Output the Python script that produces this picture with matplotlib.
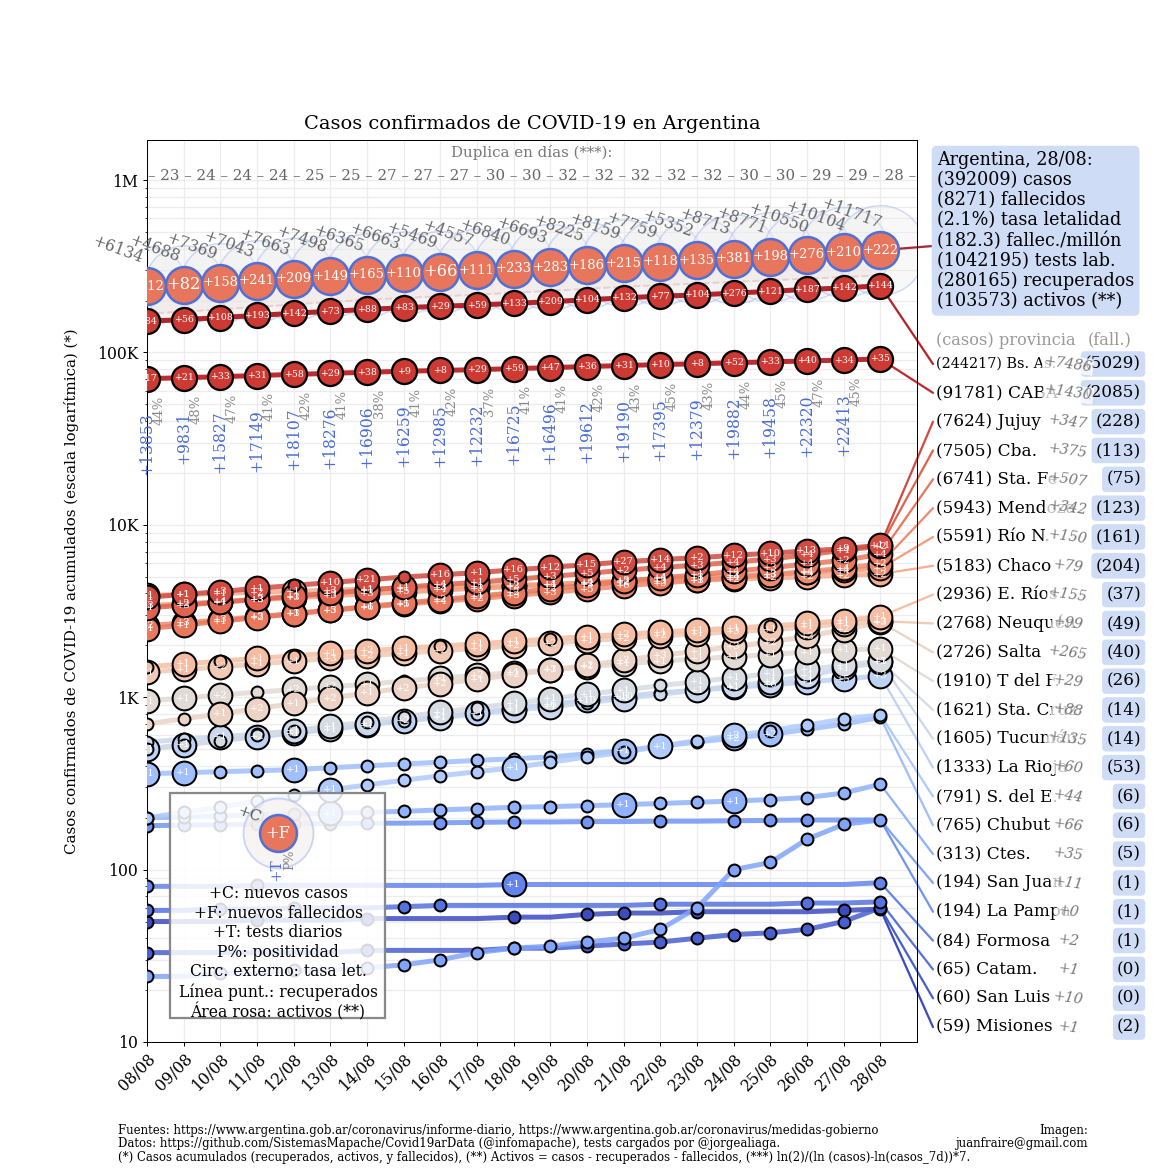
import numpy as np
import matplotlib
matplotlib.use('Agg')
import matplotlib.pyplot as plt
from matplotlib.patches import Rectangle

plt.rcParams['font.family'] = 'DejaVu Serif'

W = 1170
H = 1170

dates = ['08/08', '09/08', '10/08', '11/08', '12/08', '13/08', '14/08', '15/08', '16/08', '17/08',
         '18/08', '19/08', '20/08', '21/08', '22/08', '23/08', '24/08', '25/08', '26/08', '27/08', '28/08']

# Argentina
arg_cases = [241811, 246499, 253868, 260911, 268574, 276072, 282437, 289100, 294569, 299126, 305966,
             312659, 320884, 329043, 336802, 342154, 350867, 359638, 370188, 380292, 392009]
arg_new_cases = [6134, 4688, 7369, 7043, 7663, 7498, 6365, 6663, 5469, 4557, 6840,
                 6693, 8225, 8159, 7759, 5352, 8713, 8771, 10550, 10104, 11717]
arg_deaths = [4523, 4605, 4763, 5004, 5213, 5362, 5527, 5637, 5703, 5814, 6047,
              6330, 6516, 6731, 6849, 6984, 7365, 7563, 7839, 8049, 8271]
arg_new_deaths = [112, 82, 158, 241, 209, 149, 165, 110, 66, 111, 233,
                  283, 186, 215, 118, 135, 381, 198, 276, 210, 222]
arg_recovered = [168000, 172500, 178000, 184000, 190000, 196500, 202000, 207500, 212000, 216500, 222000,
                 228000, 234000, 240500, 246000, 251000, 257000, 262500, 268000, 274000, 280165]
doubling_days = [23, 24, 24, 24, 25, 25, 27, 27, 27, 30, 30, 32, 32, 32, 32, 32, 30, 30, 29, 29, 28]
tests = [13853, 9831, 15827, 17149, 18107, 18276, 16906, 16259, 12985, 12232,
         16725, 16496, 19612, 19190, 17395, 12379, 19882, 19458, 22320, 22413]
positivity = [44, 48, 47, 41, 42, 41, 38, 41, 42, 37, 41, 41, 42, 43, 45, 43, 44, 45, 47, 45]

# Bs. As. y CABA
bsas_cases = [152000, 155000, 159500, 164000, 168800, 173600, 177700, 182000, 185500, 188400, 192800,
              197100, 202300, 207400, 212300, 215600, 221000, 226300, 232400, 236731, 244217]
bsas_new_deaths = [84, 56, 108, 193, 142, 73, 88, 83, 29, 59, 133, 209, 104, 132, 77, 104, 276, 121, 187, 142, 144]
caba_cases = [70500, 71400, 72400, 73500, 74600, 75700, 76800, 77800, 78700, 79500, 80600,
              81700, 82900, 84000, 85100, 86000, 87200, 88300, 89300, 90351, 91781]
caba_new_deaths = [17, 21, 33, 31, 58, 29, 38, 9, 8, 29, 59, 47, 36, 31, 10, 8, 52, 33, 40, 34, 35]

# filas de la derecha
row_names = ['Bs. As.', 'CABA', 'Jujuy', 'Cba.', 'Sta. Fe', 'Mendoza', 'Río N.', 'Chaco', 'E. Ríos',
             'Neuquén', 'Salta', 'T del F.', 'Sta. Cruz', 'Tucumán', 'La Rioja', 'S. del E.', 'Chubut',
             'Ctes.', 'San Juan', 'La Pampa', 'Formosa', 'Catam.', 'San Luis', 'Misiones']
row_cases = [244217, 91781, 7624, 7505, 6741, 5943, 5591, 5183, 2936, 2768, 2726, 1910, 1621, 1605,
             1333, 791, 765, 313, 194, 194, 84, 65, 60, 59]
row_new = [7486, 1430, 347, 375, 507, 342, 150, 79, 155, 99, 265, 29, 88, 135, 60, 44, 66, 35, 11, 0, 2, 1, 10, 1]
row_deaths = [5029, 2085, 228, 113, 75, 123, 161, 204, 37, 49, 40, 26, 14, 14, 53, 6, 6, 5, 1, 1, 1, 0, 0, 2]

# resto de provincias (mismo orden que row_names[2:])
prov_cases = [
    [3800, 3950, 4100, 4290, 4450, 4630, 4800, 4980, 5130, 5290, 5480, 5670, 5880, 6100, 6290, 6450, 6650, 6850, 7060, 7277, 7624],
    [3300, 3420, 3560, 3700, 3860, 4010, 4180, 4350, 4500, 4640, 4830, 5020, 5230, 5450, 5660, 5830, 6080, 6330, 6700, 7130, 7505],
    [2500, 2620, 2760, 2900, 3050, 3200, 3360, 3520, 3680, 3850, 4040, 4250, 4480, 4700, 4930, 5120, 5380, 5640, 5930, 6234, 6741],
    [2600, 2700, 2810, 2930, 3060, 3190, 3330, 3470, 3600, 3730, 3890, 4060, 4240, 4420, 4600, 4760, 4950, 5130, 5360, 5601, 5943],
    [3400, 3490, 3580, 3680, 3780, 3880, 3990, 4090, 4190, 4280, 4390, 4500, 4620, 4740, 4860, 4960, 5070, 5180, 5300, 5441, 5591],
    [3900, 3950, 4000, 4060, 4120, 4180, 4240, 4300, 4350, 4400, 4460, 4520, 4580, 4650, 4720, 4780, 4850, 4920, 5000, 5104, 5183],
    [1500, 1560, 1620, 1680, 1740, 1800, 1860, 1920, 1980, 2040, 2110, 2180, 2250, 2320, 2390, 2450, 2520, 2590, 2680, 2781, 2936],
    [1400, 1450, 1500, 1560, 1620, 1680, 1740, 1800, 1860, 1920, 1990, 2060, 2130, 2200, 2270, 2330, 2400, 2460, 2560, 2669, 2768],
    [700, 750, 800, 860, 920, 990, 1060, 1130, 1200, 1270, 1350, 1440, 1530, 1640, 1750, 1850, 1970, 2090, 2260, 2461, 2726],
    [950, 990, 1030, 1070, 1110, 1150, 1190, 1240, 1290, 1340, 1390, 1440, 1500, 1560, 1620, 1670, 1720, 1770, 1830, 1881, 1910],
    [500, 530, 560, 600, 640, 680, 720, 770, 820, 870, 920, 980, 1040, 1100, 1170, 1230, 1300, 1370, 1450, 1533, 1621],
    [550, 570, 590, 610, 640, 670, 700, 730, 760, 800, 840, 880, 930, 980, 1040, 1100, 1160, 1230, 1330, 1470, 1605],
    [500, 530, 560, 590, 620, 650, 690, 730, 770, 810, 860, 910, 960, 1010, 1060, 1100, 1140, 1180, 1230, 1273, 1333],
    [200, 215, 230, 250, 270, 290, 310, 330, 350, 370, 390, 420, 450, 480, 520, 560, 600, 640, 690, 747, 791],
    [360, 365, 370, 375, 380, 390, 400, 410, 420, 430, 440, 450, 470, 490, 520, 550, 580, 610, 650, 699, 765],
    [200, 202, 205, 208, 210, 212, 215, 218, 222, 226, 230, 232, 235, 238, 242, 246, 250, 255, 262, 278, 313],
    [24, 24, 25, 25, 26, 26, 27, 28, 30, 33, 35, 36, 38, 40, 45, 60, 100, 110, 150, 183, 194],
    [180, 181, 182, 183, 184, 185, 186, 186, 187, 188, 189, 189, 190, 190, 191, 191, 192, 193, 194, 194, 194],
    [80, 80, 80, 81, 81, 81, 81, 81, 81, 81, 82, 82, 82, 82, 82, 82, 82, 82, 82, 82, 84],
    [58, 58, 59, 59, 60, 60, 60, 61, 62, 62, 62, 62, 62, 62, 63, 63, 63, 63, 64, 64, 65],
    [33, 33, 33, 33, 33, 33, 34, 34, 34, 34, 35, 35, 36, 37, 38, 40, 42, 43, 45, 50, 60],
    [50, 50, 50, 51, 51, 51, 52, 52, 52, 52, 53, 53, 55, 56, 56, 57, 57, 57, 57, 58, 59],
]
prov_new_deaths = [
    [1, 1, 3, 1, 0, 10, 21, 0, 16, 1, 16, 12, 15, 27, 14, 2, 12, 10, 13, 9, 11],
    [1, 3, 1, 3, 1, 3, 1, 1, 4, 1, 5, 3, 5, 2, 4, 3, 4, 3, 4, 4, 2],
    [1, 1, 1, 2, 1, 3, 1, 1, 2, 1, 2, 2, 3, 2, 4, 1, 4, 3, 4, 2, 4],
    [2, 3, 3, 3, 3, 5, 6, 5, 4, 2, 3, 3, 5, 6, 3, 3, 4, 3, 4, 4, 2],
    [3, 2, 4, 3, 3, 3, 3, 5, 4, 3, 3, 4, 4, 3, 4, 3, 3, 3, 4, 4, 3],
    [1, 1, 1, 2, 1, 3, 1, 1, 3, 1, 2, 1, 2, 2, 3, 1, 2, 2, 2, 2, 2],
    [0, 1, 0, 1, 0, 1, 2, 1, 0, 1, 1, 0, 1, 2, 1, 1, 1, 0, 1, 1, 1],
    [1, 1, 2, 1, 1, 3, 2, 1, 2, 1, 2, 2, 1, 2, 2, 1, 3, 1, 1, 1, 3],
    [0, 0, 1, 2, 1, 2, 1, 2, 2, 1, 2, 3, 2, 2, 3, 1, 3, 2, 3, 2, 3],
    [1, 1, 2, 0, 2, 2, 1, 0, 1, 2, 1, 1, 1, 1, 1, 1, 1, 1, 1, 1, 1],
    [0, 0, 0, 0, 0, 1, 0, 0, 1, 0, 1, 1, 1, 1, 0, 1, 1, 1, 1, 1, 3],
    [0, 0, 1, 0, 1, 0, 1, 0, 1, 0, 1, 1, 0, 1, 0, 1, 1, 1, 1, 1, 1],
    [1, 1, 0, 2, 1, 1, 1, 2, 1, 1, 1, 6, 10, 10, 0, 0, 1, 6, 1, 5, 3],
    [0, 0, 0, 0, 0, 1, 0, 0, 0, 0, 1, 0, 0, 0, 1, 0, 2, 0, 0, 0, 0],
    [1, 1, 0, 0, 1, 0, 0, 0, 0, 0, 0, 0, 0, 1, 0, 0, 2, 2, 0, 0, 0],
    [0, 0, 0, 0, 0, 1, 0, 0, 0, 0, 0, 0, 0, 1, 0, 0, 1, 0, 0, 0, 0],
    [0, 0, 0, 0, 0, 0, 0, 0, 0, 0, 0, 0, 0, 0, 0, 0, 0, 0, 0, 0, 0],
    [0, 0, 0, 0, 0, 0, 0, 0, 0, 0, 0, 0, 0, 0, 0, 0, 0, 0, 0, 0, 0],
    [0, 0, 0, 0, 0, 0, 0, 0, 0, 0, 1, 0, 0, 0, 0, 0, 0, 0, 0, 0, 0],
    [0, 0, 0, 0, 0, 0, 0, 0, 0, 0, 0, 0, 0, 0, 0, 0, 0, 0, 0, 0, 0],
    [0, 0, 0, 0, 0, 0, 0, 0, 0, 0, 0, 0, 0, 0, 0, 0, 0, 0, 0, 0, 0],
    [0, 0, 0, 0, 0, 0, 0, 0, 0, 0, 0, 0, 0, 0, 0, 0, 0, 0, 0, 0, 0],
]

cmap = plt.get_cmap('coolwarm')
row_colors = [cmap(1 - i / 23) for i in range(24)]
row_colors[0] = '#b2262b'
row_colors[1] = '#bd2d30'


def figfrac(px, py):
    return px / W, 1 - py / H


def axfrac(px, py):
    return (px - 147) / 770, (1042 - py) / 902


fig = plt.figure(figsize=(13, 13), dpi=90)
ax = fig.add_axes([147 / W, 1 - 1042 / H, 770 / W, 902 / H])
ax.set_yscale('log')
ax.set_ylim(10, 1.709e6)
ax.set_xlim(0, 21)
x = np.arange(21)

ax.set_yticks([10, 100, 1e3, 1e4, 1e5, 1e6])
ax.set_yticklabels(['10', '100', '1K', '10K', '100K', '1M'], fontsize=12.5)
ax.set_xticks(x)
ax.set_xticklabels(dates, rotation=45, ha='right', rotation_mode='anchor', fontsize=12.5)
ax.grid(True, which='both', color='#ececec', lw=1, zorder=0)
ax.set_axisbelow(True)
ax.set_title('Casos confirmados de COVID-19 en Argentina', fontsize=15.5, pad=9)
ax.set_ylabel('Casos confirmados de COVID-19 acumulados (escala logarítmica) (*)', fontsize=12, labelpad=14)

# Argentina: area activos, recuperados, circulos
ax.fill_between(x, arg_recovered, arg_cases, color='#f2c2bb', alpha=0.25, lw=0, zorder=1)
ax.plot(x, arg_recovered, '--', color='#e8a5a5', lw=1.5, zorder=2)
for i in x:
    rate = 100 * arg_deaths[i] / arg_cases[i]
    ax.plot(i, arg_cases[i], 'o', ms=34 * rate, mfc=(0.93, 0.92, 0.92, 0.35),
            mec=(0.6, 0.7, 0.95, 0.45), mew=1.2, zorder=2)
for i in x:
    ax.plot(i, arg_cases[i], 'o', ms=29.5, mfc='#e8765c', mec='#4f70d8', mew=2, zorder=6)
    s = '+%d' % arg_new_deaths[i]
    ax.text(i, arg_cases[i], s, ha='center', va='center', color='white',
            fontsize=13 if len(s) <= 3 else 10.5, zorder=7)
    ax.annotate('+%d' % arg_new_cases[i], (i, arg_cases[i]), xytext=(-23, 29),
                textcoords='offset points', ha='center', va='center', rotation=-20,
                fontsize=12.5, color='#666666', zorder=7, annotation_clip=False)

# doubling
ax.text(0.5, axfrac(0, 153)[1], 'Duplica en días (***):', transform=ax.transAxes,
        ha='center', va='center', fontsize=12, color='#777777')
dstr = '– ' + ' – '.join(str(d) for d in doubling_days) + ' –'
ax.text(0.5, axfrac(0, 176)[1], dstr, transform=ax.transAxes, ha='center', va='center',
        fontsize=12, color='#666666')

# Bs. As. y CABA
for series, deaths, c in [(bsas_cases, bsas_new_deaths, row_colors[0]), (caba_cases, caba_new_deaths, row_colors[1])]:
    ax.plot(x, series, '-', color=c, lw=4, zorder=4)
    for i in x:
        ax.plot(i, series[i], 'o', ms=20, mfc='#cc3a33', mec='black', mew=1.8, zorder=5)
        ax.text(i, series[i], '+%d' % deaths[i], ha='center', va='center', color='white',
                fontsize=7.5, zorder=6)

# tests y positividad
for i in range(len(tests)):
    ax.text(i, caba_cases[i] * 0.64, '+%d' % tests[i], rotation=90, ha='center', va='top',
            fontsize=12.5, color='#4a6cd4', zorder=5)
    ax.text(i + 0.33, caba_cases[i] * 0.8, '%d%%' % positivity[i], rotation=90, ha='center',
            va='top', fontsize=10.5, color='#888888', zorder=5)

# provincias
for k in range(len(prov_cases) - 1, -1, -1):
    c = row_colors[k + 2]
    vals = prov_cases[k]
    ax.plot(x, vals, '-', color=c, lw=4, alpha=0.85, zorder=3)
    for i in x:
        if i > 0 and vals[i] - vals[i - 1] <= 0:
            continue
        d = prov_new_deaths[k][i]
        ax.plot(i, vals[i], 'o', ms=19 if d > 0 else 9.5, mfc=c, mec='black', mew=1.6, zorder=4)
        if d > 0:
            ax.text(i, vals[i], '+%d' % d, ha='center', va='center', color='white',
                    fontsize=8, zorder=5)

# legend box
bx0, by0 = axfrac(170, 1018)
bx1, by1 = axfrac(385, 793)
ax.add_patch(Rectangle((bx0, by0), bx1 - bx0, by1 - by0, transform=ax.transAxes,
                       facecolor=(1, 1, 1, 0.85), edgecolor='#888888', lw=1.8, zorder=10))
cx, cy = axfrac(278, 833)
ax.plot(cx, cy, 'o', transform=ax.transAxes, ms=56, mfc=(0.95, 0.93, 0.92, 0.6),
        mec=(0.6, 0.7, 0.95, 0.5), mew=1.5, zorder=11, clip_on=False)
ax.plot(cx, cy, 'o', transform=ax.transAxes, ms=29.5, mfc='#e8765c', mec='#4f70d8',
        mew=2, zorder=12, clip_on=False)
ax.text(cx, cy, '+F', transform=ax.transAxes, ha='center', va='center', color='white',
        fontsize=13, zorder=13)
ax.text(*axfrac(249, 814), '+C', transform=ax.transAxes, ha='center', va='center',
        rotation=-20, fontsize=12, color='#555555', zorder=13)
ax.text(*axfrac(276, 870), '+T', transform=ax.transAxes, ha='center', va='center',
        rotation=90, fontsize=12, color='#4a6cd4', zorder=13)
ax.text(*axfrac(290, 860), 'P%', transform=ax.transAxes, ha='center', va='center',
        rotation=90, fontsize=10, color='#888888', zorder=13)
legend_lines = ['+C: nuevos casos', '+F: nuevos fallecidos', '+T: tests diarios', 'P%: positividad',
                'Circ. externo: tasa let.', 'Línea punt.: recuperados', 'Área rosa: activos (**)']
ax.text(*axfrac(278, 885), '\n'.join(legend_lines), transform=ax.transAxes, ha='center',
        va='top', fontsize=12.5, linespacing=1.2, zorder=13)

# panel derecho
info = ('Argentina, %s:\n(%d) casos\n(%d) fallecidos\n(%.1f%%) tasa letalidad\n'
        '(182.3) fallec./millón\n(1042195) tests lab.\n(%d) recuperados\n(%d) activos (**)') % (
    dates[-1], arg_cases[-1], arg_deaths[-1], 100 * arg_deaths[-1] / arg_cases[-1],
    arg_recovered[-1], arg_cases[-1] - arg_recovered[-1] - arg_deaths[-1])
fig.text(*figfrac(937, 151), info, ha='left', va='top', fontsize=14, linespacing=1.15,
         bbox=dict(boxstyle='round,pad=0.3', fc='#cfdcf6', ec='none'))
ax.annotate('', xy=(20, arg_cases[-1]), xycoords='data', xytext=figfrac(933, 246),
            textcoords='figure fraction', annotation_clip=False, zorder=2,
            arrowprops=dict(arrowstyle='-', color='#a52a3a', lw=1.8, shrinkA=0, shrinkB=0))

fig.text(*figfrac(936, 340), '(casos) provincia', ha='left', va='center', fontsize=13, color='#999999')
fig.text(*figfrac(1132, 340), '(fall.)', ha='right', va='center', fontsize=13, color='#999999')
ends = [bsas_cases[-1], caba_cases[-1]] + [p[-1] for p in prov_cases]
for r in range(24):
    ry = 364 + r * 28.83
    fig.text(*figfrac(936, ry), '(%d) %s' % (row_cases[r], row_names[r]), ha='left', va='center',
             fontsize=11.5 if r == 0 else 13.5)
    fig.text(*figfrac(1141, ry), '(%d)' % row_deaths[r], ha='right', va='center', fontsize=13.5,
             bbox=dict(boxstyle='round,pad=0.25', fc='#cfdcf6', ec='none'))
    fig.text(*figfrac(1068, ry), '+%d' % row_new[r], ha='center', va='center', fontsize=11.5,
             style='italic', color='#777777', rotation=-8,
             bbox=dict(fc=(1, 1, 1, 0.75), ec='none', pad=1))
    ax.annotate('', xy=(20, ends[r]), xycoords='data', xytext=figfrac(933, ry),
                textcoords='figure fraction', annotation_clip=False, zorder=2,
                arrowprops=dict(arrowstyle='-', color=row_colors[r], lw=1.8, shrinkA=0, shrinkB=0))

# footer
foot = ('Fuentes: https://www.argentina.gob.ar/coronavirus/informe-diario, '
        'https://www.argentina.gob.ar/coronavirus/medidas-gobierno\n'
        'Datos: https://github.com/SistemasMapache/Covid19arData (@infomapache), tests cargados por @jorgealiaga.\n'
        '(*) Casos acumulados (recuperados, activos, y fallecidos), (**) Activos = casos - recuperados - '
        'fallecidos, (***) ln(2)/(ln (casos)-ln(casos_7d))*7.')
fig.text(*figfrac(118, 1124), foot, ha='left', va='top', fontsize=10.4, linespacing=1.05,
         fontstretch='condensed')
fig.text(*figfrac(1088, 1124), 'Imagen:\njuanfraire@gmail.com', ha='right', va='top', fontsize=10.4,
         linespacing=1.05, fontstretch='condensed')

fig.savefig('out.png', dpi=90)
